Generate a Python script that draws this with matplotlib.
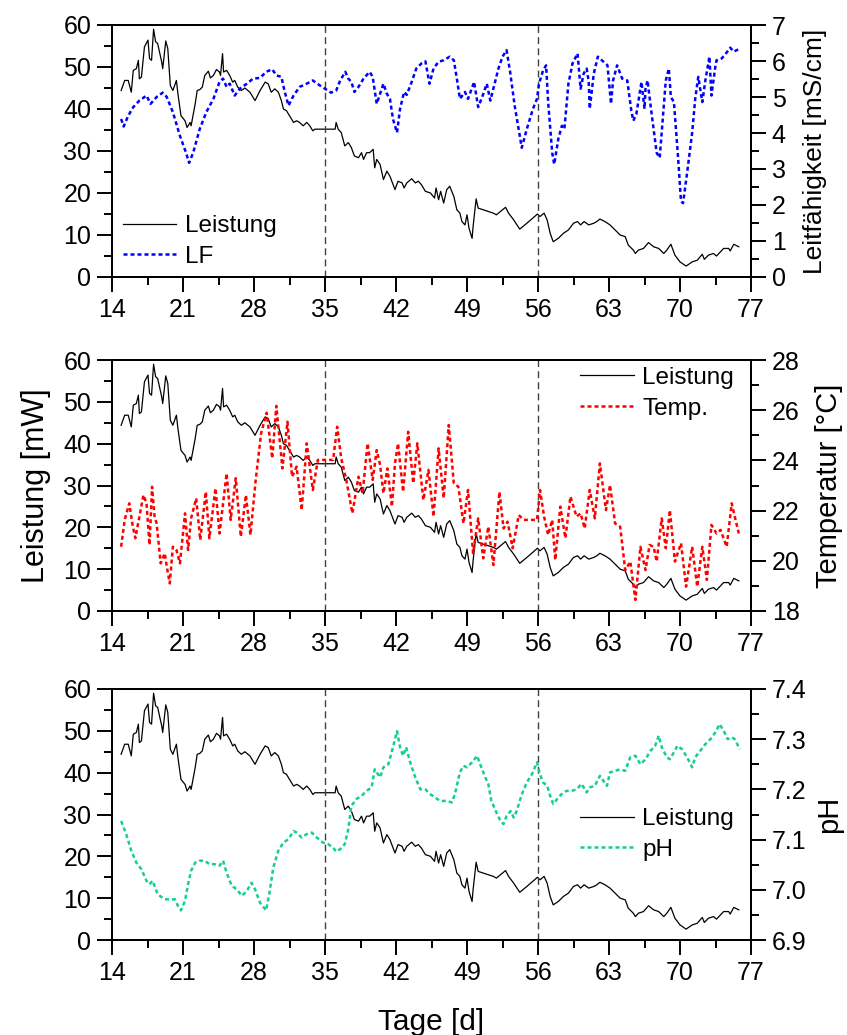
import matplotlib
matplotlib.use("Agg")
import matplotlib.pyplot as plt
from matplotlib.ticker import MultipleLocator, FormatStrFormatter

plt.rcParams['font.family'] = ['Liberation Sans', 'DejaVu Sans']

# Leistung [mW] (same series in all three panels)
p_day = [14.9, 15.25, 15.6, 15.9, 16.1, 16.4, 16.6, 16.7, 16.9, 17.2, 17.55, 17.7, 17.9, 18.1, 18.3,
         18.5, 18.9, 19.0, 19.3, 19.5, 19.75, 20.0, 20.35, 20.5, 20.8, 21.2, 21.4, 21.7, 21.8, 22.2,
         22.4, 22.65, 22.9, 23.15, 23.5, 23.7, 24.0, 24.3, 24.6, 24.7, 24.9, 25.0, 25.3, 25.6, 25.9,
         26.1, 26.4, 26.75, 27.1, 27.6, 28.1, 28.6, 29.1, 29.4, 29.7, 30.05, 30.4, 30.7, 30.9, 31.2,
         31.5, 31.9, 32.2, 32.5, 32.85, 33.2, 33.5, 33.8, 34.0, 36.0, 36.1, 36.3, 36.6, 36.95, 37.3,
         37.6, 37.9, 38.3, 38.6, 38.8, 39.1, 39.4, 39.75, 39.9, 40.1, 40.43, 40.76, 41.1, 41.4, 41.9,
         42.2, 42.6, 42.8, 43.06, 43.55, 43.9, 44.2, 44.5, 44.9, 45.4, 45.8, 45.95, 46.2, 46.4, 46.7,
         47.0, 47.3, 47.7, 48.0, 48.3, 48.5, 48.8, 49.0, 49.2, 49.5, 49.6, 49.9, 50.1, 50.6, 51.1,
         51.6, 51.9, 52.3, 52.8, 53.1, 53.6, 54.2, 54.9, 55.95, 56.2, 56.6, 56.9, 57.2, 57.5, 58.0,
         58.5, 59.0, 59.5, 59.9, 60.2, 60.55, 61.0, 61.5, 61.8, 62.1, 62.6, 63.1, 63.6, 64.1, 64.6,
         64.9, 65.4, 65.6, 65.9, 66.4, 66.9, 67.4, 67.9, 68.4, 68.7, 69.1, 69.5, 70.0, 70.6, 71.2,
         71.7, 72.2, 72.4, 72.8, 73.3, 73.6, 74.3, 74.8, 74.95, 75.3, 75.8]
p_val = [44.4, 46.8, 46.8, 44.0, 49.2, 49.6, 51.6, 47.2, 47.6, 54.8, 56.4, 52.0, 51.6, 59.0, 56.0,
         55.6, 51.2, 49.6, 56.2, 54.4, 45.6, 44.4, 46.8, 43.6, 38.4, 37.2, 35.6, 36.8, 36.0, 41.2,
         44.4, 44.6, 45.2, 48.0, 49.0, 47.4, 48.0, 49.4, 48.8, 48.0, 53.2, 48.8, 49.2, 48.0, 46.4,
         46.8, 45.2, 44.4, 45.0, 44.0, 42.0, 44.4, 46.4, 46.0, 44.0, 44.8, 44.0, 42.0, 40.0, 39.6,
         38.4, 36.8, 37.2, 36.8, 36.0, 36.8, 36.0, 34.8, 35.2, 35.2, 36.8, 35.2, 34.4, 31.2, 32.0,
         30.8, 28.8, 28.4, 29.6, 28.0, 29.6, 29.6, 30.4, 26.0, 28.0, 26.8, 23.2, 25.2, 24.0, 20.8,
         22.8, 22.4, 21.2, 22.4, 23.4, 22.4, 22.8, 22.0, 20.4, 20.0, 18.8, 21.2, 18.4, 20.4, 17.6,
         20.8, 21.6, 19.2, 16.0, 15.2, 13.2, 12.4, 14.8, 11.6, 9.2, 12.0, 18.6, 16.4, 16.0, 15.6,
         15.2, 14.8, 15.6, 16.6, 15.2, 13.6, 11.4, 12.8, 15.0, 14.4, 15.2, 13.6, 10.4, 8.4, 9.2,
         10.4, 11.2, 12.8, 13.2, 12.4, 13.2, 12.4, 12.8, 13.2, 13.8, 13.2, 12.4, 11.2, 10.0, 9.6,
         7.6, 6.4, 5.6, 6.4, 6.8, 8.2, 7.2, 6.8, 5.6, 6.4, 7.8, 5.2, 3.6, 2.6, 3.6,
         4.0, 5.4, 4.2, 5.2, 5.6, 5.0, 6.8, 6.8, 6.2, 7.8, 7.2]

# Leitfähigkeit [mS/cm]
lf_day = [14.9, 15.15, 15.6, 16.1, 16.7, 17.4, 17.8, 18.4, 19.0, 19.4, 20.0, 20.7, 21.3, 21.6, 22.0,
          22.65, 23.3, 24.0, 24.6, 24.95, 25.3, 25.6, 26.1, 26.6, 27.3, 27.9, 28.6, 29.2, 29.8, 30.2,
          30.7, 31.0, 31.4, 31.9, 32.5, 33.2, 33.8, 34.5, 35.0, 35.6, 36.1, 36.5, 37.0, 37.3, 37.6,
          37.9, 38.3, 38.8, 39.4, 39.7, 40.1, 40.43, 40.76, 41.1, 41.4, 41.7, 42.1, 42.4, 42.8, 43.06,
          43.55, 44.0, 44.5, 44.9, 45.3, 45.7, 46.2, 46.7, 47.3, 47.7, 48.0, 48.3, 48.8, 49.1, 49.4,
          49.7, 50.1, 50.5, 50.95, 51.3, 51.6, 52.1, 52.5, 52.9, 53.25, 53.7, 54.4, 54.9, 55.5, 55.9,
          56.1, 56.5, 56.8, 57.0, 57.4, 57.6, 58.0, 58.35, 58.6, 59.0, 59.4, 59.9, 60.2, 60.5, 60.8,
          61.0, 61.1, 61.5, 61.9, 62.3, 62.85, 63.2, 63.4, 63.8, 64.3, 64.8, 65.2, 65.4, 65.7, 66.2,
          66.5, 66.6, 66.8, 67.1, 67.4, 67.7, 68.0, 68.3, 68.6, 68.9, 69.1, 69.4, 69.8, 70.1, 70.3,
          70.7, 71.2, 71.5, 71.8, 72.2, 72.5, 72.9, 73.1, 73.5, 73.6, 74.1, 74.4, 74.95, 75.3, 75.8]
lf_val = [4.39, 4.18, 4.48, 4.72, 4.90, 5.04, 4.81, 5.00, 5.12, 5.00, 4.58, 3.92, 3.45, 3.17, 3.45,
          4.11, 4.58, 4.95, 5.42, 5.51, 5.28, 5.37, 5.04, 5.23, 5.37, 5.51, 5.53, 5.70, 5.77, 5.60,
          5.56, 5.18, 4.76, 5.04, 5.28, 5.37, 5.46, 5.32, 5.23, 5.12, 5.18, 5.46, 5.70, 5.51, 5.42,
          5.14, 5.28, 5.51, 5.70, 5.56, 4.81, 5.09, 5.37, 5.09, 4.95, 4.39, 4.01, 4.67, 5.14, 5.06,
          5.42, 5.79, 5.93, 5.99, 5.37, 5.79, 5.98, 6.02, 6.12, 6.02, 5.51, 4.95, 5.14, 4.95, 5.18,
          5.42, 4.72, 5.00, 5.37, 4.90, 5.23, 5.79, 6.12, 6.30, 5.70, 4.76, 3.59, 4.11, 4.67, 4.95,
          5.37, 5.74, 5.88, 4.86, 3.45, 3.13, 3.83, 4.20, 4.11, 5.37, 5.93, 6.21, 5.23, 5.65, 5.79,
          5.42, 4.67, 5.65, 6.12, 6.02, 5.88, 4.81, 5.46, 5.88, 5.51, 5.46, 4.62, 4.34, 4.53, 5.42,
          4.67, 5.23, 5.46, 4.76, 4.11, 3.45, 3.31, 4.39, 5.46, 5.79, 5.00, 4.86, 3.36, 2.10, 2.05,
          2.89, 4.01, 4.95, 5.56, 4.86, 5.46, 6.12, 5.04, 5.88, 6.02, 6.07, 6.16, 6.37, 6.26, 6.33]

# Temperatur [°C]
t_day = [14.9, 15.25, 15.7, 16.0, 16.3, 16.7, 17.1, 17.4, 17.7, 17.95, 18.2, 18.4, 18.8, 19.2, 19.4,
         19.7, 20.0, 20.35, 20.7, 21.2, 21.5, 21.8, 22.3, 22.7, 23.25, 23.6, 24.2, 24.6, 25.3, 25.7,
         26.2, 26.7, 27.2, 27.65, 28.15, 28.7, 29.25, 29.8, 30.2, 30.8, 31.3, 31.75, 32.2, 32.7, 33.2,
         33.8, 34.3, 35.8, 36.2, 36.6, 37.1, 37.7, 38.3, 38.7, 39.2, 39.7, 40.1, 40.43, 40.76, 41.15,
         41.6, 41.9, 42.2, 42.7, 43.2, 43.7, 44.1, 44.7, 45.2, 45.7, 46.2, 46.7, 47.2, 47.7, 48.15,
         48.65, 49.1, 49.6, 50.1, 50.6, 51.1, 51.6, 52.2, 52.6, 53.0, 53.5, 54.1, 54.6, 55.9, 56.2,
         56.6, 57.0, 57.4, 57.7, 58.2, 58.7, 59.2, 59.8, 60.2, 60.6, 61.1, 61.6, 62.1, 62.7, 63.1,
         63.6, 64.1, 64.6, 65.1, 65.6, 66.1, 66.6, 67.0, 67.4, 67.7, 68.2, 68.6, 69.0, 69.5, 70.1,
         70.6, 71.2, 71.7, 72.2, 72.65, 73.1, 73.6, 74.0, 74.6, 75.1, 75.4, 75.8]
t_val = [20.56, 21.63, 22.29, 21.49, 20.90, 21.76, 22.62, 22.29, 20.63, 22.95, 21.76, 21.49, 19.90, 20.30, 19.77,
         19.10, 20.56, 20.43, 19.90, 21.89, 20.43, 21.69, 22.49, 20.83, 22.75, 20.90, 22.89, 21.09, 23.48, 21.63,
         23.29, 20.96, 22.62, 21.03, 23.15, 25.08, 25.90, 24.08, 26.17, 23.68, 25.54, 23.35, 23.75, 22.02, 24.68,
         22.82, 24.02, 24.02, 25.34, 24.08, 23.22, 21.89, 23.35, 22.69, 24.68, 23.22, 24.41, 23.82, 22.69, 23.68,
         22.16, 23.88, 24.68, 22.75, 25.14, 23.09, 24.68, 22.42, 23.62, 21.76, 24.48, 22.49, 25.41, 23.09, 22.95,
         21.49, 22.82, 20.30, 21.69, 20.10, 21.36, 19.83, 22.75, 21.29, 21.56, 20.50, 21.82, 21.63, 21.63, 22.82,
         21.76, 21.03, 21.63, 20.03, 22.16, 20.90, 22.56, 21.76, 21.89, 21.29, 22.82, 21.69, 23.88, 22.02, 23.02,
         21.49, 21.36, 19.63, 19.97, 18.44, 20.56, 19.63, 20.63, 20.56, 19.97, 21.69, 20.50, 22.02, 19.97, 20.70,
         18.97, 20.56, 18.97, 20.56, 19.24, 21.43, 21.09, 21.23, 20.56, 22.29, 21.76, 21.09]

# pH
ph_day = [14.9, 15.4, 15.9, 16.4, 16.9, 17.4, 17.7, 18.0, 18.5, 19.2, 19.7, 20.2, 20.5, 20.8, 21.2,
          21.5, 21.8, 22.2, 22.65, 23.15, 23.6, 24.1, 24.6, 24.95, 25.3, 25.8, 26.3, 26.8, 27.3, 27.75,
          28.1, 28.6, 29.2, 29.5, 29.9, 30.4, 30.9, 31.4, 31.9, 32.2, 32.7, 33.2, 33.7, 34.2, 34.8,
          35.3, 35.8, 36.1, 36.5, 36.95, 37.3, 37.6, 38.1, 38.6, 39.1, 39.6, 39.9, 40.43, 40.76, 41.25,
          41.7, 42.1, 42.4, 42.7, 43.0, 43.4, 43.9, 44.4, 44.9, 45.4, 45.85, 46.35, 47.0, 47.5, 47.8,
          48.3, 48.65, 49.0, 49.5, 50.0, 50.3, 50.8, 51.1, 51.4, 51.9, 52.3, 52.6, 52.9, 53.3, 53.6,
          53.9, 54.4, 54.9, 55.4, 55.9, 56.2, 56.5, 56.9, 57.2, 57.5, 57.9, 58.3, 58.8, 59.3, 59.8,
          60.3, 60.8, 61.1, 61.6, 62.1, 62.45, 62.8, 63.1, 63.6, 64.1, 64.6, 65.1, 65.6, 66.1, 66.6,
          67.1, 67.55, 67.9, 68.2, 68.7, 69.0, 69.4, 69.75, 70.2, 70.7, 71.2, 71.5, 72.0, 72.5, 73.0,
          73.5, 73.9, 74.3, 74.7, 75.1, 75.4, 75.9]
ph_val = [7.137, 7.111, 7.078, 7.054, 7.041, 7.018, 7.011, 7.018, 6.991, 6.981, 6.981, 6.981, 6.968, 6.959, 6.978,
          7.011, 7.038, 7.054, 7.058, 7.058, 7.051, 7.051, 7.048, 7.058, 7.034, 7.008, 7.001, 6.988, 6.998, 7.014,
          7.001, 6.974, 6.959, 6.991, 7.044, 7.078, 7.094, 7.101, 7.117, 7.114, 7.104, 7.111, 7.114, 7.104, 7.094,
          7.091, 7.084, 7.076, 7.081, 7.091, 7.121, 7.167, 7.181, 7.187, 7.197, 7.204, 7.240, 7.224, 7.244, 7.250,
          7.284, 7.316, 7.284, 7.267, 7.284, 7.254, 7.224, 7.200, 7.200, 7.190, 7.184, 7.177, 7.177, 7.174, 7.190,
          7.234, 7.247, 7.244, 7.254, 7.267, 7.250, 7.224, 7.211, 7.177, 7.154, 7.137, 7.131, 7.147, 7.157, 7.144,
          7.157, 7.190, 7.214, 7.230, 7.254, 7.230, 7.214, 7.207, 7.187, 7.171, 7.181, 7.190, 7.197, 7.197, 7.200,
          7.211, 7.194, 7.204, 7.207, 7.227, 7.217, 7.207, 7.234, 7.237, 7.240, 7.237, 7.264, 7.267, 7.250, 7.260,
          7.277, 7.287, 7.307, 7.284, 7.264, 7.260, 7.274, 7.287, 7.280, 7.264, 7.244, 7.264, 7.277, 7.290, 7.300,
          7.314, 7.330, 7.317, 7.300, 7.304, 7.300, 7.280]

x_ticks = [14, 21, 28, 35, 42, 49, 56, 63, 70, 77]
phase_days = [35, 56]

fig = plt.figure(figsize=(8.47, 10.35), dpi=100)

left, width = 112 / 847, 639 / 847
rows = [(1 - 277 / 1035, 252 / 1035), (1 - 611 / 1035, 251 / 1035), (1 - 940 / 1035, 251 / 1035)]

panels = [
    dict(y=lf_day, v=lf_val, color='#0000ff', label='LF', ylim=(0, 7), major=1, minor=0.5,
         fmt='%d', ylabel='Leitfähigkeit [mS/cm]', ylsize=19, lpad=12,
         leg=dict(loc='lower left', bbox_to_anchor=(-0.01, -0.03))),
    dict(y=t_day, v=t_val, color='#ff0000', label='Temp.', ylim=(18, 28), major=2, minor=1,
         fmt='%d', ylabel='Temperatur [°C]', ylsize=21, lpad=11,
         leg=dict(loc='upper right', bbox_to_anchor=(1.0, 1.04))),
    dict(y=ph_day, v=ph_val, color='#14d08c', label='pH', ylim=(6.9, 7.4), major=0.1, minor=0.05,
         fmt='%.1f', ylabel='pH', ylsize=21, lpad=6,
         leg=dict(loc='center right', bbox_to_anchor=(1.0, 0.42))),
]

tick_kw = dict(direction='out', length=11, width=1.4, labelsize=18, pad=4)
minor_kw = dict(direction='out', length=5.5, width=1.4)

for i, (pan, (bot, h)) in enumerate(zip(panels, rows)):
    ax = fig.add_axes([left, bot, width, h])
    ax2 = ax.twinx()

    l1, = ax.plot(p_day, p_val, color='black', lw=0.9, label='Leistung')
    l2, = ax2.plot(pan['y'], pan['v'], color=pan['color'], lw=1.8,
                   linestyle=(0, (1.6, 1.2)), label=pan['label'])
    for d in phase_days:
        ax.axvline(d, color='#404040', lw=1.0, linestyle=(0, (5, 3)))

    ax.set_xlim(14, 77)
    ax.set_ylim(0, 60)
    ax.set_xticks(x_ticks)
    ax.xaxis.set_minor_locator(MultipleLocator(3.5))
    ax.yaxis.set_major_locator(MultipleLocator(10))
    ax.yaxis.set_minor_locator(MultipleLocator(5))
    ax.tick_params(which='major', **tick_kw)
    ax.tick_params(which='minor', **minor_kw)
    ax.tick_params(top=False, right=False, which='both')

    ax2.set_ylim(*pan['ylim'])
    ax2.yaxis.set_major_locator(MultipleLocator(pan['major']))
    ax2.yaxis.set_minor_locator(MultipleLocator(pan['minor']))
    ax2.yaxis.set_major_formatter(FormatStrFormatter(pan['fmt']))
    ax2.tick_params(which='major', **tick_kw)
    ax2.tick_params(which='minor', **minor_kw)
    ax2.set_ylabel(pan['ylabel'], fontsize=pan['ylsize'], labelpad=pan['lpad'])

    for a in (ax, ax2):
        for s in a.spines.values():
            s.set_linewidth(1.4)

    if i == 1:
        ax.set_ylabel('Leistung [mW]', fontsize=22, labelpad=9)
    if i == 2:
        ax.set_xlabel('Tage [d]', fontsize=21.5, labelpad=17)

    ax2.legend([l1, l2], ['Leistung', pan['label']], frameon=False, fontsize=17.5,
               handlelength=2.2, handletextpad=0.35, labelspacing=0.35, borderaxespad=0.3,
               **pan['leg'])

fig.savefig('out.png', dpi=100)
